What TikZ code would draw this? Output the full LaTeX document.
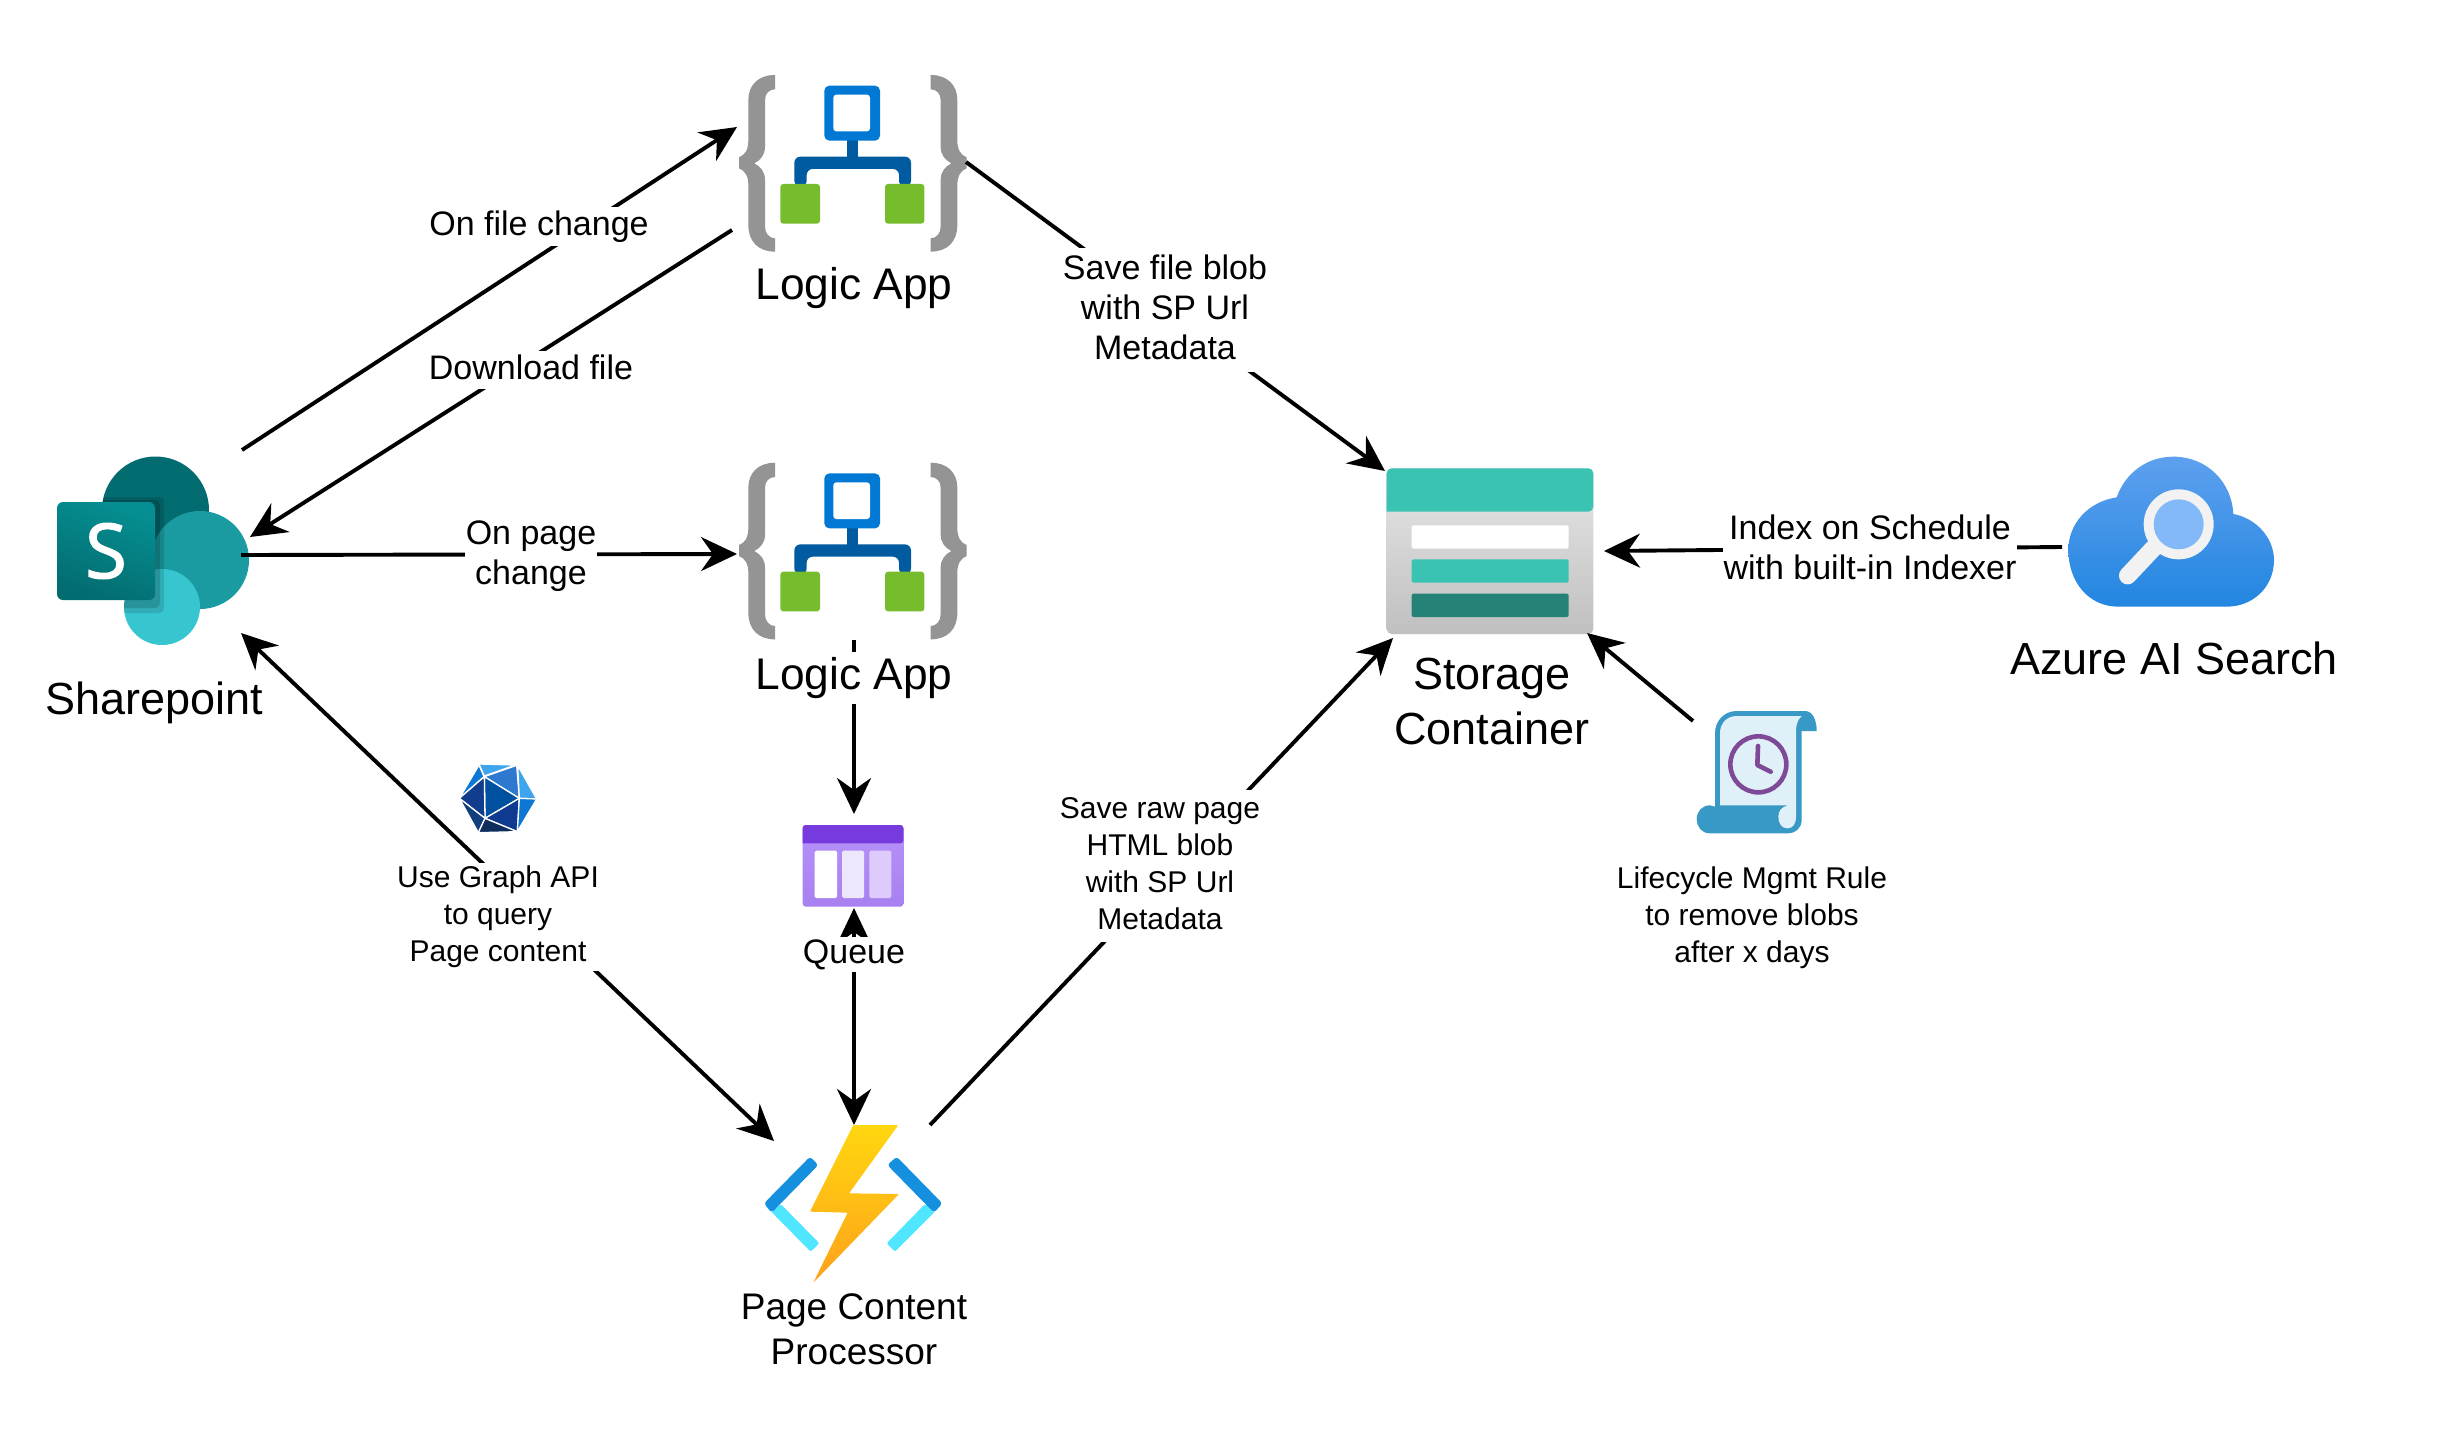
\documentclass[tikz,border=0pt]{standalone}
\usepackage{fontspec}
\setmainfont{Liberation Sans}
\newfontfamily\spfont[FakeBold=1.6]{Open Sans}
\usetikzlibrary{arrows.meta}
\newcommand{\st}{\rule[-.22em]{0pt}{.97em}}
\definecolor{spdark}{HTML}{036C70}
\definecolor{spmid}{HTML}{1A9BA1}
\definecolor{splight}{HTML}{37C6D0}
\definecolor{sptop}{HTML}{058F92}
\definecolor{bracegray}{HTML}{949494}
\definecolor{laBlue}{HTML}{0078D4}
\definecolor{laDark}{HTML}{005BA1}
\definecolor{laGreen}{HTML}{76BC2D}
\definecolor{stTeal}{HTML}{3AC2B2}
\definecolor{stDark}{HTML}{258277}
\definecolor{stTop}{HTML}{E6E6E6}
\definecolor{stBottom}{HTML}{C0C0C0}
\definecolor{scrollBlue}{HTML}{3999C6}
\definecolor{scrollPale}{HTML}{DFF0F8}
\definecolor{clockPurple}{HTML}{804998}
\definecolor{cloudTop}{HTML}{5EA0EF}
\definecolor{cloudBottom}{HTML}{2286E0}
\definecolor{lensRing}{HTML}{F2F2F2}
\definecolor{lensGlass}{HTML}{83B9F9}
\definecolor{qTop}{HTML}{B692F9}
\definecolor{qBottom}{HTML}{A880F0}
\definecolor{qBand}{HTML}{773ADC}
\definecolor{qPanelA}{HTML}{EEE6FB}
\definecolor{qPanelB}{HTML}{DDCBFC}
\definecolor{fnPale}{HTML}{50E6FF}
\definecolor{fnBlue}{HTML}{1490DF}
\definecolor{boltTop}{HTML}{FFD70F}
\definecolor{boltBottom}{HTML}{FEA11B}
\tikzset{
  conn/.style={line width=3.9pt,-{Stealth[length=36pt,width=34pt,inset=12pt]}},
  connboth/.style={line width=3.9pt,{Stealth[length=36pt,width=34pt,inset=12pt]}-{Stealth[length=36pt,width=34pt,inset=12pt]}},
  lbl/.style={fill=white,align=center,inner xsep=1pt,inner ysep=3pt,font=\fontsize{34}{40}\selectfont},
  lblsmall/.style={fill=white,align=center,inner xsep=2pt,inner ysep=2pt,font=\fontsize{30}{37}\selectfont},
  title/.style={align=center,inner sep=0pt,font=\fontsize{45}{55}\selectfont},
  zoomed/.style={x=0.33333pt,y=-0.33333pt},
}
\newcommand{\logicicon}[3]{%
  \begin{scope}[shift={(#1,#2)},zoomed]
    \foreach \mx/\sg in {0/1,#3/-1}{
      \fill[bracegray] (\mx+\sg*165,75) .. controls (\mx+\sg*115,75) and (\mx+\sg*85,105) .. (\mx+\sg*85,150)
        -- (\mx+\sg*85,270) .. controls (\mx+\sg*85,300) and (\mx+\sg*75,315) .. (\mx+\sg*57,322)
        -- (\mx+\sg*57,355) .. controls (\mx+\sg*75,362) and (\mx+\sg*85,378) .. (\mx+\sg*85,405)
        -- (\mx+\sg*85,525) .. controls (\mx+\sg*85,575) and (\mx+\sg*115,605) .. (\mx+\sg*165,605)
        -- (\mx+\sg*165,565) .. controls (\mx+\sg*148,565) and (\mx+\sg*135,550) .. (\mx+\sg*135,530)
        -- (\mx+\sg*135,390) .. controls (\mx+\sg*135,365) and (\mx+\sg*122,350) .. (\mx+\sg*103,340)
        .. controls (\mx+\sg*122,330) and (\mx+\sg*135,315) .. (\mx+\sg*135,290)
        -- (\mx+\sg*135,150) .. controls (\mx+\sg*135,130) and (\mx+\sg*148,118) .. (\mx+\sg*165,118) -- cycle;
    }
    \fill[laDark] (380,265) rectangle (415,325);
    \fill[laDark,rounded corners=6pt] (223,410) -- (223,320) -- (573,320) -- (573,410) -- (537,410) -- (537,357) -- (260,357) -- (260,410) -- cycle;
    \fill[laBlue,rounded corners=5pt] (313,107) rectangle (480,272);
    \fill[white,rounded corners=3pt] (340,134) rectangle (450,244);
    \fill[laGreen,rounded corners=3pt] (181,402) rectangle (300,521);
    \fill[laGreen,rounded corners=3pt] (495,402) rectangle (613,521);
  \end{scope}}
\begin{document}
\begin{tikzpicture}[x=1pt,y=-1pt]
\useasboundingbox (0,0) rectangle (2446,1429);
\fill[white] (0,0) rectangle (2446,1429);

% ---------- icons ----------
% Sharepoint
\fill[spdark] (155.5,510) circle (53.5);
\fill[spmid] (200,560) circle (49);
\fill[splight] (162,607) circle (38);
\begin{scope}
  \clip (155.5,510) circle (53.5) (200,560) circle (49) (162,607) circle (38);
  \fill[black,opacity=.12,rounded corners=5pt] (90,497) rectangle (164,613);
  \fill[black,opacity=.15,rounded corners=5pt] (90,500) rectangle (160,608);
\end{scope}
\shade[top color=sptop,bottom color=spdark,shading angle=-20,rounded corners=6pt] (57,502) rectangle (155,600);
\node[text=white,inner sep=0pt,font=\spfont\fontsize{76}{76}\selectfont] (spletter) at (106,551) {S};

% Logic apps
\logicicon{720}{50}{797}
\logicicon{720}{437.7}{797}

% Storage
\begin{scope}[shift={(1370,450)},zoomed]
  \shade[top color=stTop,bottom color=stBottom,rounded corners=5pt] (50,55) rectangle (670,552);
  \fill[stTeal,rounded corners=5pt] (50,185) -- (50,55) -- (670,55) -- (670,185) [sharp corners] -- cycle;
  \fill[white,rounded corners=2pt] (125,226) rectangle (596,296);
  \fill[stTeal,rounded corners=2pt] (125,328) rectangle (596,398);
  \fill[stDark,rounded corners=2pt] (125,431) rectangle (596,501);
\end{scope}

% Azure AI Search
\begin{scope}[shift={(2050,440)},zoomed]
  \shade[top color=cloudTop,bottom color=cloudBottom]
    (205,500) .. controls (115,500) and (55,425) .. (55,330)
    .. controls (55,250) and (115,185) .. (200,172)
    .. controls (225,100) and (290,50) .. (370,50)
    .. controls (470,50) and (545,125) .. (550,222)
    .. controls (620,235) and (672,295) .. (672,360)
    .. controls (672,440) and (610,500) .. (530,500) -- cycle;
  \draw[line width=17.5pt,lensRing,line cap=round] (310,325) -- (233,407);
  \fill[lensRing] (386,253) circle (105);
  \fill[lensGlass] (386,253) circle (75);
\end{scope}

% Lifecycle scroll
\begin{scope}[shift={(1680,700)},zoomed]
  \fill[scrollBlue] (105,320) -- (105,100) .. controls (105,60) and (135,33) .. (170,33) -- (375,33)
    .. controls (398,33) and (410,60) .. (410,93) -- (365,93) -- (365,360)
    .. controls (365,385) and (345,400) .. (325,400) -- (90,400)
    .. controls (65,400) and (50,380) .. (50,358) .. controls (50,335) and (65,316) .. (90,316) -- cycle;
  \fill[scrollPale] (120,316) -- (120,100) .. controls (120,70) and (140,48) .. (170,48) -- (365,48)
    .. controls (352,60) and (348,75) .. (348,95) -- (348,350)
    .. controls (348,372) and (338,385) .. (322,385) .. controls (305,385) and (295,370) .. (295,350)
    .. controls (295,332) and (305,320) .. (325,316) -- cycle;
  \draw[clockPurple,line width=4.6pt] (235,193) circle (84);
  \draw[clockPurple,line width=4.6pt,line cap=round,line join=round] (234,138) -- (232,195) -- (272,215);
\end{scope}

% Graph icon
\begin{scope}[shift={(440,750)},zoomed]
  \foreach \pts/\col in {
    {(58,145)--(117,45)--(132,80)}/0C78D4,
    {(117,42)--(226,45)--(133,78)}/3FA4EE,
    {(133,80)--(230,46)--(238,145)}/2F78D0,
    {(233,46)--(290,147)--(238,145)}/3FA4EE,
    {(133,80)--(238,145)--(135,205)}/0050A0,
    {(58,145)--(133,80)--(135,205)}/123C8C,
    {(58,145)--(135,205)--(115,248)}/123E7C,
    {(135,205)--(238,145)--(232,245)}/103A90,
    {(238,145)--(290,147)--(232,245)}/0C78D4,
    {(135,205)--(232,245)--(115,248)}/0E2F5E}{
    \definecolor{facet}{HTML}{\col}
    \filldraw[fill=facet,draw=white,line width=1.3pt,line join=round] \pts -- cycle;
  }
\end{scope}

% Queue
\begin{scope}[shift={(790,820)},zoomed]
  \shade[top color=qTop,bottom color=qBottom,rounded corners=3pt] (38,15) rectangle (340,260);
  \fill[qBand,rounded corners=3pt] (38,70) -- (38,15) -- (340,15) -- (340,70) [sharp corners] -- cycle;
  \fill[white,rounded corners=1.5pt] (74,92) rectangle (141,234);
  \fill[qPanelA,rounded corners=1.5pt] (156,92) rectangle (222,234);
  \fill[qPanelB,rounded corners=1.5pt] (238,92) rectangle (304,234);
\end{scope}

% Function
\begin{scope}[shift={(750,1110)},zoomed]
  \fill[fnPale,rounded corners=2pt] (65,308) -- (92,282) -- (208,400) -- (182,425) -- (42,283) -- cycle;
  \fill[fnBlue,rounded corners=3pt] (42,280) -- (180,140) -- (205,165) -- (65,308) -- cycle;
  \fill[fnPale,rounded corners=2pt] (525,282) -- (552,308) -- (577,283) -- (435,425) -- (410,400) -- cycle;
  \fill[fnBlue,rounded corners=3pt] (412,165) -- (440,140) -- (577,280) -- (552,308) -- cycle;
  \shade[top color=boltTop,bottom color=boltBottom,rounded corners=1pt]
    (310,45) -- (445,45) -- (297,250) -- (447,252) -- (190,518) -- (293,308) -- (180,305) -- cycle;
\end{scope}

% ---------- connector ends ----------
\coordinate (spFileOut) at (242,450);
\coordinate (laFileIn) at (737,127);
\coordinate (laDownOut) at (732,230);
\coordinate (spDownIn) at (250,537);
\coordinate (spPageOut) at (241,555);
\coordinate (laPageIn) at (737,554);
\coordinate (laOneOut) at (966,162);
\coordinate (stFileIn) at (1385,471);
\coordinate (laTwoOut) at (854,640);
\coordinate (queueIn) at (854,814);
\coordinate (queueOut) at (854,908);
\coordinate (fnIn) at (854,1125);
\coordinate (spGraph) at (241,633);
\coordinate (fnGraph) at (774,1141);
\coordinate (fnOut) at (930,1125);
\coordinate (stPageIn) at (1393,638);
\coordinate (searchOut) at (2062,547);
\coordinate (stIndexIn) at (1604,551);
\coordinate (ruleOut) at (1693,721);
\coordinate (stRuleIn) at (1587,633);

% ---------- connectors ----------
\draw[conn] (spFileOut) -- (laFileIn);
\draw[conn] (laDownOut) -- (spDownIn);
\draw[conn] (spPageOut) -- (laPageIn);
\draw[conn] (laOneOut) -- (stFileIn);
\draw[conn] (laTwoOut) -- (queueIn);
\draw[connboth] (queueOut) -- (fnIn);
\draw[connboth] (spGraph) -- (fnGraph);
\draw[conn] (fnOut) -- (stPageIn);
\draw[conn] (searchOut) -- (stIndexIn);
\draw[conn] (ruleOut) -- (stRuleIn);

% ---------- labels ----------
\node[lbl] (lblFile) at (539,226.5) {\st On file change};
\node[lbl] (lblDown) at (531,370) {\st Download file};
\node[lbl] (lblPage) at (531,555) {\st On page\\\st change};
\node[lbl,inner ysep=6pt] (lblBlob) at (1165,310) {\st Save file blob\\with SP Url\\\st Metadata};
\node[lbl] (lblIndex) at (1870,550) {\st Index on Schedule\\\st with built-in Indexer};
\node[lblsmall] (lblGraph) at (498,917) {\st Use Graph API\\to query\\\st Page content};
\node[lblsmall,inner ysep=6pt] (lblRaw) at (1160,866) {\st Save raw page\\HTML blob\\with SP Url\\\st Metadata};
\node[lblsmall,fill=none] (lblRule) at (1752,918) {\st Lifecycle Mgmt Rule\\to remove blobs\\\st after x days};
\node[lbl,inner ysep=1pt] (lblQueue) at (854,954.5) {\st Queue};

\node[title] (tSharepoint) at (154,703) {Sharepoint};
\node[title,font=\fontsize{44.3}{55}\selectfont] (tLogicOne) at (854,288) {Logic App};
\node[title,font=\fontsize{44.3}{55}\selectfont,fill=white,inner xsep=2pt,inner ysep=5pt] (tLogicTwo) at (854,678) {Logic App};
\node[title] (tStorage) at (1492,702) {Storage\\Container};
\node[title] (tSearch) at (2174,658) {Azure AI Search};
\node[title,font=\fontsize{37}{45}\selectfont] (tFunction) at (854,1329) {Page Content\\Processor};
\end{tikzpicture}
\end{document}
